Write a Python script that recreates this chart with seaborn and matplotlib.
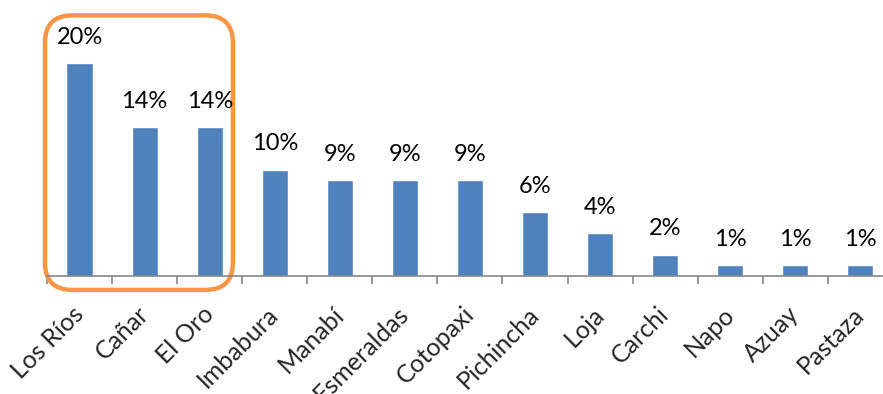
import matplotlib
matplotlib.use("Agg")
import matplotlib.pyplot as plt
import matplotlib.transforms as mtransforms
from matplotlib.patches import FancyBboxPatch
import seaborn as sns
import pandas as pd

provincias = ["Los Ríos", "Cañar", "El Oro", "Imbabura", "Manabí", "Esmeraldas",
              "Cotopaxi", "Pichincha", "Loja", "Carchi", "Napo", "Azuay", "Pastaza"]
porcentajes = [20, 14, 14, 10, 9, 9, 9, 6, 4, 2, 1, 1, 1]

df = pd.DataFrame({"provincia": provincias, "porcentaje": porcentajes})

sns.set_theme(style="white")
plt.rcParams["font.family"] = ["Lato", "DejaVu Sans"]

fig = plt.figure(figsize=(8.83, 3.94), dpi=100)
ax = fig.add_axes([0.0532, 0.2995, 0.958, 0.675])

sns.barplot(data=df, x="provincia", y="porcentaje", color="#4F81BD",
            width=0.4, saturation=1, ax=ax)

ax.set_xlim(-0.5, len(provincias) - 0.5)
ax.set_ylim(0, 25)

# value labels above each bar
for cont in ax.containers:
    ax.bar_label(cont, labels=[f"{v}%" for v in porcentajes], padding=11,
                 fontsize=17, color="black")

# category axis: gray baseline with ticks between categories
for side in ["left", "right", "top"]:
    ax.spines[side].set_visible(False)
ax.spines["bottom"].set_color("#868686")
ax.spines["bottom"].set_linewidth(1.2)
ax.set_yticks([])
ax.set_xticks([i - 0.5 for i in range(len(provincias) + 1)], minor=True)
ax.set_xticks(range(len(provincias)))
ax.tick_params(axis="x", which="minor", length=6, width=1.2, color="#868686",
               direction="out", bottom=True)
ax.tick_params(axis="x", which="major", length=0, pad=14)
ax.set_xticklabels(provincias, rotation=45, ha="right", va="top",
                   rotation_mode="anchor", fontsize=18)
shift = mtransforms.ScaledTranslation(-0.08, -0.07, fig.dpi_scale_trans)
for lbl in ax.get_xticklabels():
    lbl.set_transform(lbl.get_transform() + shift)
ax.set_xlabel("")
ax.set_ylabel("")

# highlight box around the three leading provinces
px_x = 65.1
px_y = 10.65
box = FancyBboxPatch((-0.531, -1.31), 2.357 + 0.531, 24.5 + 1.31,
                     boxstyle="round,pad=0,rounding_size=0.42",
                     mutation_aspect=px_x / px_y,
                     fill=False, edgecolor="#F79646", linewidth=3.2,
                     clip_on=False, transform=ax.transData)
ax.add_patch(box)

fig.savefig("out.png", dpi=100)
